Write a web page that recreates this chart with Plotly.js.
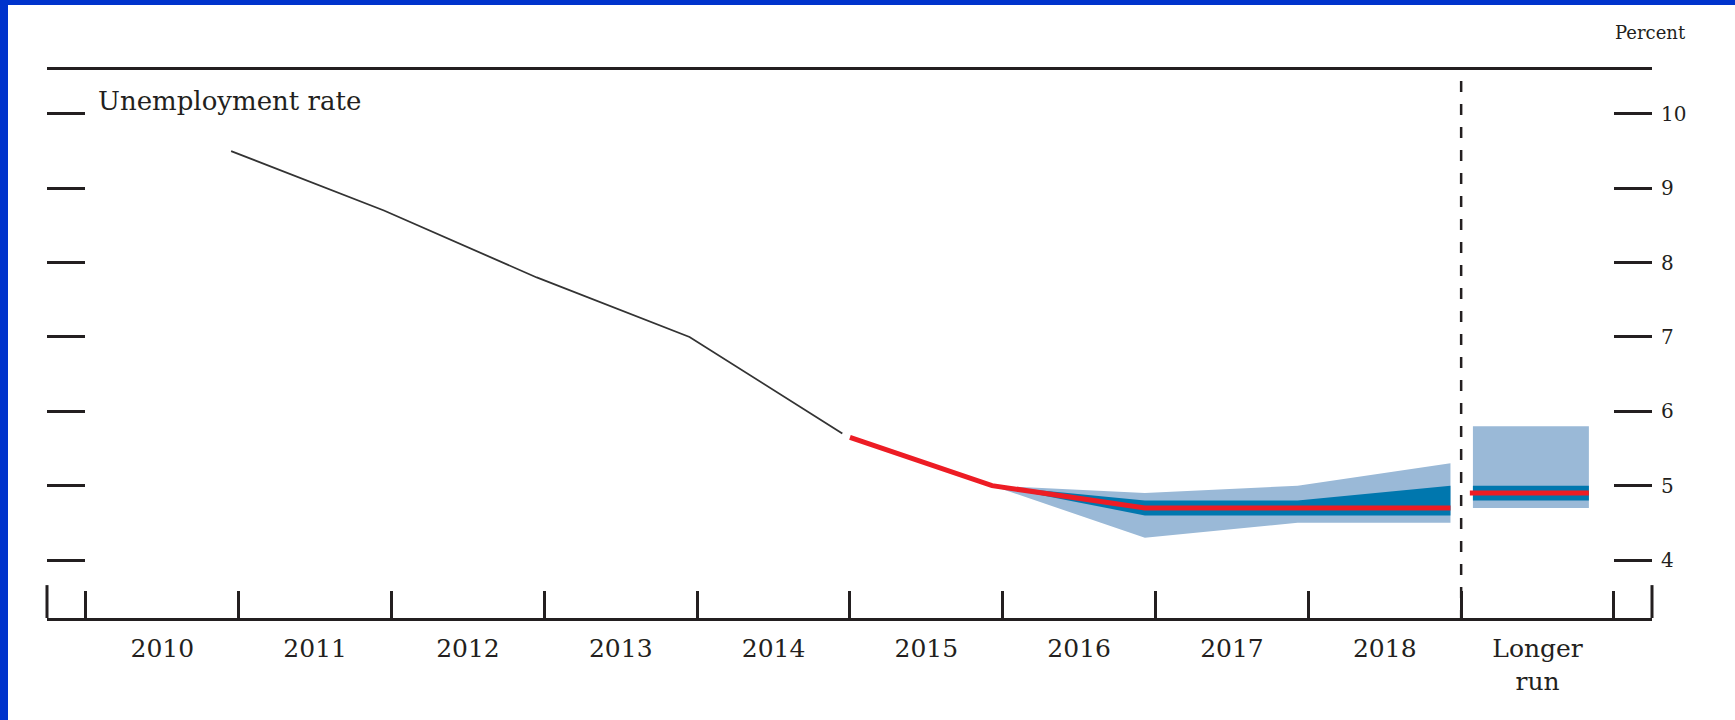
<!DOCTYPE html>
<html>
<head>
<meta charset="utf-8">
<script src="https://cdn.plot.ly/plotly-3.0.1.min.js"></script>
<style>
  html, body { margin: 0; padding: 0; background: #ffffff; }
  #chart { position: absolute; left: 0; top: 0; width: 1735px; height: 720px; }
  .border-top { position: absolute; left: 0; top: 0; width: 1735px; height: 5px; background: #0033cc; }
  .border-left { position: absolute; left: 0; top: 0; width: 8px; height: 720px; background: #0033cc; }
</style>
</head>
<body>
<div id="chart"></div>
<div class="border-top"></div>
<div class="border-left"></div>
<script>
// ---------------- data ----------------
const categoryYears = [2010, 2011, 2012, 2013, 2014, 2015, 2016, 2017, 2018, 2019];
const categoryLabels = ['2010', '2011', '2012', '2013', '2014', '2015', '2016', '2017', '2018', 'Longer<br>run'];

const histYears = [2010, 2011, 2012, 2013, 2014];
const histRate = [9.5, 8.7, 7.8, 7.0, 5.7];

const medianStartRate = 5.65;            // where the red median line begins (end of 2014)
const projYears = [2015, 2016, 2017, 2018];
const medianRate = [5.0, 4.7, 4.7, 4.7];
const centralLow = [5.0, 4.6, 4.6, 4.6];
const centralHigh = [5.0, 4.8, 4.8, 5.0];
const rangeLow = [5.0, 4.3, 4.5, 4.5];
const rangeHigh = [5.0, 4.9, 5.0, 5.3];

const longerRunMedian = 4.9;
const longerRunCentral = [4.8, 5.0];
const longerRunRange = [4.7, 5.8];

const yTickValues = [4, 5, 6, 7, 8, 9, 10];

// ---------------- styling / positions ----------------
const INK = '#231f20';
const LIGHT = '#9ab9d7';
const DARK = '#0077ae';
const RED = '#ed1c24';
const FONT = 'DejaVu Serif, Liberation Serif, serif';

const HIST_OFFSET = 0.45;   // Q4 point inside each year
const PROJ_OFFSET = 0.43;
const LR_YEAR = 2019;
const LR_BOX_LEFT = -0.423, LR_BOX_RIGHT = 0.336, LR_LINE_LEFT = -0.443;

const xRange = [2009.245, 2019.749];
const yRange = [3.22, 10.59];

const boundaries = [];
for (let i = 0; i <= categoryYears.length; i++) boundaries.push(categoryYears[0] - 0.5 + i);

const hx = histYears.map(y => y + HIST_OFFSET);
const px = projYears.map(y => y + PROJ_OFFSET);
const lrCenter = LR_YEAR + (LR_BOX_LEFT + LR_BOX_RIGHT) / 2;
const lrWidth = LR_BOX_RIGHT - LR_BOX_LEFT;

const traces = [
  { x: px, y: rangeLow, type: 'scatter', mode: 'lines', line: { width: 0, color: LIGHT }, hoverinfo: 'skip', showlegend: false },
  { x: px, y: rangeHigh, type: 'scatter', mode: 'lines', fill: 'tonexty', fillcolor: LIGHT, line: { width: 0, color: LIGHT }, hoverinfo: 'skip', showlegend: false },
  { x: px, y: centralLow, type: 'scatter', mode: 'lines', line: { width: 0, color: DARK }, hoverinfo: 'skip', showlegend: false },
  { x: px, y: centralHigh, type: 'scatter', mode: 'lines', fill: 'tonexty', fillcolor: DARK, line: { width: 0, color: DARK }, hoverinfo: 'skip', showlegend: false },
  { x: [lrCenter], base: [longerRunRange[0]], y: [longerRunRange[1] - longerRunRange[0]], width: [lrWidth], type: 'bar', marker: { color: LIGHT, line: { width: 0 } }, hoverinfo: 'skip', showlegend: false },
  { x: [lrCenter], base: [longerRunCentral[0]], y: [longerRunCentral[1] - longerRunCentral[0]], width: [lrWidth], type: 'bar', marker: { color: DARK, line: { width: 0 } }, hoverinfo: 'skip', showlegend: false },
  { x: hx, y: histRate, type: 'scatter', mode: 'lines', line: { width: 1.8, color: '#333333' }, hoverinfo: 'skip', showlegend: false },
  { x: [histYears[histYears.length - 1] + 0.5].concat(px), y: [medianStartRate].concat(medianRate), type: 'scatter', mode: 'lines', line: { width: 5, color: RED }, hoverinfo: 'skip', showlegend: false },
  { x: [LR_YEAR + LR_LINE_LEFT, LR_YEAR + LR_BOX_RIGHT], y: [longerRunMedian, longerRunMedian], type: 'scatter', mode: 'lines', line: { width: 5, color: RED }, hoverinfo: 'skip', showlegend: false },
  // carrier for the category label axis
  { x: categoryYears, y: categoryYears.map(() => null), xaxis: 'x2', yaxis: 'y', type: 'scatter', mode: 'markers', hoverinfo: 'skip', showlegend: false }
];

const layout = {
  width: 1735,
  height: 720,
  margin: { l: 47, r: 83, t: 70, b: 102 },
  paper_bgcolor: '#ffffff',
  plot_bgcolor: '#ffffff',
  showlegend: false,
  barmode: 'overlay',
  hovermode: false,
  font: { family: FONT, color: INK },
  xaxis: {
    range: xRange,
    showgrid: false, zeroline: false,
    showline: true, linewidth: 3, linecolor: INK, mirror: true,
    tickmode: 'array', tickvals: boundaries,
    ticks: 'inside', ticklen: 27, tickwidth: 3, tickcolor: INK,
    showticklabels: false
  },
  xaxis2: {
    overlaying: 'x', anchor: 'y', side: 'bottom',
    range: xRange,
    showgrid: false, zeroline: false, showline: false,
    tickmode: 'array', tickvals: categoryYears, ticktext: categoryLabels,
    ticks: '', ticklabelstandoff: 13,
    tickfont: { family: FONT, size: 25, color: INK }
  },
  yaxis: {
    range: yRange,
    side: 'right',
    showgrid: false, zeroline: false, showline: false,
    mirror: 'ticks',
    tickmode: 'array', tickvals: yTickValues,
    ticks: 'inside', ticklen: 38, tickwidth: 3, tickcolor: INK,
    ticklabelstandoff: 8,
    tickfont: { family: FONT, size: 20, color: INK }
  },
  shapes: [
    { type: 'line', xref: 'x', yref: 'paper', x0: 2018.5, x1: 2018.5, y0: 0.98, y1: 0, line: { color: INK, width: 2.5, dash: '11px,12px' } },
    { type: 'line', xref: 'paper', yref: 'paper', x0: 0, x1: 0, y0: 0, y1: 0.06, line: { color: INK, width: 3 } },
    { type: 'line', xref: 'paper', yref: 'paper', x0: 1, x1: 1, y0: 0, y1: 0.06, line: { color: INK, width: 3 } }
  ],
  annotations: [
    { text: 'Percent', xref: 'paper', yref: 'paper', x: 1.0224, y: 1.0693, xanchor: 'right', yanchor: 'middle', showarrow: false, font: { family: FONT, size: 18, color: INK } },
    { text: 'Unemployment rate', xref: 'paper', yref: 'paper', x: 0.0305, y: 0.9434, xanchor: 'left', yanchor: 'middle', showarrow: false, font: { family: FONT, size: 26, color: INK } }
  ]
};

Plotly.newPlot('chart', traces, layout, { staticPlot: true, displayModeBar: false });
</script>
</body>
</html>
